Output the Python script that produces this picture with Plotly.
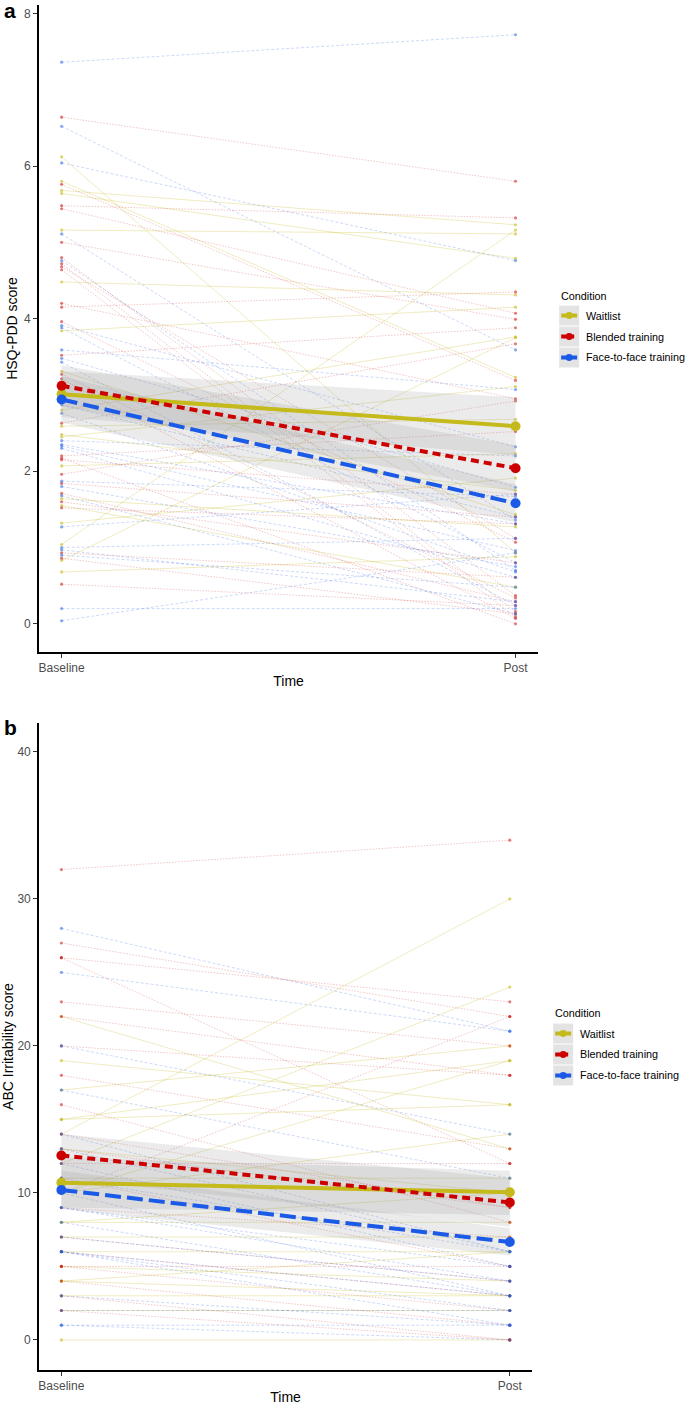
import plotly.graph_objects as go

W, H = 685, 1405
FONT = "Liberation Sans, Arial, Helvetica, sans-serif"

time_vals = [1, 2]
time_labels = ["Baseline", "Post"]
conditions = ["Waitlist", "Blended training", "Face-to-face training"]
cond_colors = ["#C4BA1B", "#CC0000", "#1A5AE6"]
cond_faint = ["rgba(196,186,27,0.34)", "rgba(204,0,0,0.29)", "rgba(26,90,230,0.29)"]
cond_point = ["rgba(196,186,27,0.6)", "rgba(204,0,0,0.5)", "rgba(26,90,230,0.5)"]
indiv_dash = ["solid", "1.5px,1.5px", "3px,2px"]
mean_dash = ["solid", "8px,5px", "16px,6px"]

# ---------------- Panel a: HSQ-PDD ----------------
a_wait_base = [6.12, 5.80, 5.68, 5.64, 5.16, 4.48, 3.84, 3.31, 2.80, 2.59, 2.48, 2.45, 2.07, 1.64, 1.55, 1.32, 1.04, 0.83, 0.68]
a_wait_post = [0.93, 3.23, 5.23, 4.79, 5.11, 4.31, 4.15, 1.43, 3.76, 2.68, 1.75, 3.11, 2.23, 1.27, 0.48, 1.91, 5.16, 3.75, 0.88]

a_blend_base = [6.64, 5.76, 5.48, 5.44, 5.00, 4.80, 4.72, 4.68, 4.64, 4.20, 4.15, 3.96, 3.52, 3.27, 3.21, 2.63, 2.20, 2.17, 2.15, 1.96, 1.84, 1.71, 1.60, 1.52, 0.93, 0.86, 0.52]
a_blend_post = [5.80, 3.19, 5.32, 4.07, 3.99, 0.37, 0.16, 1.12, 0.09, 2.95, 4.35, 1.07, 3.88, 0.34, 0.07, 3.67, 2.52, 0.00, 1.70, 2.92, 1.40, 0.29, 0.80, 1.31, 0.61, 0.13, 0.24]

a_f2f_base = [7.36, 6.52, 6.04, 5.11, 4.76, 3.91, 3.88, 3.59, 3.48, 3.43, 2.87, 2.76, 2.40, 2.35, 2.33, 2.30, 1.87, 1.80, 1.68, 1.27, 1.00, 0.97, 0.90, 0.20, 0.04]
a_f2f_post = [7.72, 3.59, 4.76, 1.36, 0.70, 2.32, 0.80, 3.07, 1.79, 0.24, 1.40, 0.68, 2.20, 1.31, 0.96, 0.61, 1.67, 0.75, 0.13, 1.70, 1.12, 0.29, 0.48, 0.20, 0.93]

a_mean_base = [3.01, 3.12, 2.94]
a_mean_post = [2.59, 2.04, 1.58]
a_ci_base_lo = [2.71, 2.85, 2.64]
a_ci_base_hi = [3.31, 3.39, 3.24]
a_ci_post_lo = [2.21, 1.74, 1.33]
a_ci_post_hi = [2.97, 2.34, 1.83]

# ---------------- Panel b: ABC Irritability ----------------
b_wait_base = [22, 19, 17, 15, 15, 14, 13, 12, 11, 10, 8, 8, 7, 6, 5, 4, 4, 3, 2, 0, 10]
b_wait_post = [13, 16, 20, 16, 19, 30, 10, 24, 11, 14, 10, 8, 7, 6, 4, 3, 6, 3, 2, 0, 19]

b_blend_base = [32, 27, 26, 26, 23, 22, 18, 16, 14, 12, 11, 9, 10, 7, 6, 5, 5, 4, 3, 2, 13, 20]
b_blend_post = [34, 22, 23, 12, 20, 18, 13, 8, 9, 12, 5, 7, 22, 4, 3, 5, 2, 1, 0, 0, 9, 18]

b_f2f_base = [28, 25, 20, 17, 14, 12, 11, 9, 9, 8, 7, 6, 6, 6, 3, 2, 1, 1, 13, 10]
b_f2f_post = [21, 21, 14, 11, 6, 5, 6, 4, 5, 3, 4, 3, 2, 1, 1, 2, 0, 1, 6, 3]

b_mean_base = [10.7, 12.55, 10.2]
b_mean_post = [10.05, 9.35, 6.66]
b_ci_base_lo = [9.0, 11.0, 8.9]
b_ci_base_hi = [12.4, 14.0, 11.5]
b_ci_post_lo = [8.5, 7.7, 5.75]
b_ci_post_hi = [11.5, 11.0, 7.6]

panels = [
    dict(xa="x", ya="y",
         base=[a_wait_base, a_blend_base, a_f2f_base],
         post=[a_wait_post, a_blend_post, a_f2f_post],
         mb=a_mean_base, mp=a_mean_post,
         blo=a_ci_base_lo, bhi=a_ci_base_hi, plo=a_ci_post_lo, phi=a_ci_post_hi),
    dict(xa="x2", ya="y2",
         base=[b_wait_base, b_blend_base, b_f2f_base],
         post=[b_wait_post, b_blend_post, b_f2f_post],
         mb=b_mean_base, mp=b_mean_post,
         blo=b_ci_base_lo, bhi=b_ci_base_hi, plo=b_ci_post_lo, phi=b_ci_post_hi),
]

fig = go.Figure()

for p in panels:
    # individual trajectories
    for ci in range(3):
        xs, ys = [], []
        for b0, p0 in zip(p["base"][ci], p["post"][ci]):
            xs += [time_vals[0], time_vals[1], None]
            ys += [b0, p0, None]
        fig.add_trace(go.Scatter(
            x=xs, y=ys, mode="lines+markers", xaxis=p["xa"], yaxis=p["ya"],
            line=dict(color=cond_faint[ci], width=0.8, dash=indiv_dash[ci]),
            marker=dict(color=cond_point[ci], size=3.2, line=dict(width=0)),
            showlegend=False, hoverinfo="skip"))
    # ribbons
    for ci in range(3):
        fig.add_trace(go.Scatter(
            x=[time_vals[0], time_vals[1], time_vals[1], time_vals[0], time_vals[0]],
            y=[p["blo"][ci], p["plo"][ci], p["phi"][ci], p["bhi"][ci], p["blo"][ci]],
            mode="lines", fill="toself", fillcolor="rgba(153,153,153,0.2)",
            line=dict(width=0), xaxis=p["xa"], yaxis=p["ya"],
            showlegend=False, hoverinfo="skip"))
    # mean lines
    for ci in range(3):
        fig.add_trace(go.Scatter(
            x=time_vals, y=[p["mb"][ci], p["mp"][ci]], mode="lines",
            line=dict(color=cond_colors[ci], width=4, dash=mean_dash[ci]),
            xaxis=p["xa"], yaxis=p["ya"], showlegend=False, name=conditions[ci]))
        fig.add_trace(go.Scatter(
            x=time_vals, y=[p["mb"][ci], p["mp"][ci]], mode="markers",
            marker=dict(color=cond_colors[ci], size=10, line=dict(width=0)),
            xaxis=p["xa"], yaxis=p["ya"], showlegend=False, name=conditions[ci]))


def px_x(x):
    return x / W


def px_y(y):
    return 1 - y / H


axis_common = dict(
    showline=True, linecolor="black", linewidth=1.6, mirror=False,
    ticks="outside", ticklen=4, tickwidth=1, tickcolor="#333333",
    tickfont=dict(family=FONT, size=12, color="#4D4D4D"),
    showgrid=False, zeroline=False,
)

fig.update_layout(
    width=W, height=H, margin=dict(l=0, r=0, t=0, b=0),
    plot_bgcolor="white", paper_bgcolor="white", showlegend=False,
    font=dict(family=FONT),
    xaxis=dict(domain=[px_x(38), px_x(538)], range=[0.95, 2.05], anchor="y",
               tickvals=time_vals, ticktext=time_labels,
               title=dict(text="Time", font=dict(size=14, color="black"), standoff=2),
               **axis_common),
    yaxis=dict(domain=[px_y(653), px_y(5)], range=[-0.37, 8.11], anchor="x",
               tickvals=[0, 2, 4, 6, 8],
               title=dict(text="HSQ-PDD score", font=dict(size=14, color="black"), standoff=3),
               **axis_common),
    xaxis2=dict(domain=[px_x(38), px_x(532)], range=[0.95, 2.05], anchor="y2",
                tickvals=time_vals, ticktext=time_labels,
                title=dict(text="Time", font=dict(size=14, color="black"), standoff=2),
                **axis_common),
    yaxis2=dict(domain=[px_y(1372), px_y(724)], range=[-2.05, 41.97], anchor="x2",
                tickvals=[0, 10, 20, 30, 40],
                title=dict(text="ABC Irritability score", font=dict(size=14, color="black"), standoff=3),
                **axis_common),
)

shapes = []
annotations = []

# panel letters
annotations.append(dict(text="<b>a</b>", x=px_x(1), y=px_y(-3), xref="paper", yref="paper",
                        xanchor="left", yanchor="top", showarrow=False,
                        font=dict(family=FONT, size=21, color="black")))
annotations.append(dict(text="<b>b</b>", x=px_x(1), y=px_y(715), xref="paper", yref="paper",
                        xanchor="left", yanchor="top", showarrow=False,
                        font=dict(family=FONT, size=21, color="black")))


def add_legend(x0, ytitle, ycenters, xtext):
    annotations.append(dict(text="Condition", x=px_x(x0), y=px_y(ytitle), xref="paper", yref="paper",
                            xanchor="left", yanchor="middle", showarrow=False,
                            font=dict(family=FONT, size=10.8, color="black")))
    for ci, yc in enumerate(ycenters):
        shapes.append(dict(type="rect", xref="paper", yref="paper",
                           x0=px_x(x0), x1=px_x(x0 + 20), y0=px_y(yc + 10), y1=px_y(yc - 10),
                           fillcolor="#E3E3E3", line=dict(width=0), layer="above"))
        shapes.append(dict(type="line", xref="paper", yref="paper",
                           x0=px_x(x0 + 2), x1=px_x(x0 + 18), y0=px_y(yc), y1=px_y(yc),
                           line=dict(color=cond_colors[ci], width=4,
                                     dash=["solid", "5px,3px", "7px,3px"][ci]), layer="above"))
        shapes.append(dict(type="circle", xref="paper", yref="paper",
                           x0=px_x(x0 + 6.5), x1=px_x(x0 + 13.5), y0=px_y(yc + 3.5), y1=px_y(yc - 3.5),
                           fillcolor=cond_colors[ci], line=dict(width=0), layer="above"))
        annotations.append(dict(text=conditions[ci], x=px_x(xtext), y=px_y(yc), xref="paper", yref="paper",
                                xanchor="left", yanchor="middle", showarrow=False,
                                font=dict(family=FONT, size=10.8, color="black")))


add_legend(559, 296, [316, 337, 358], 584)
add_legend(553, 1014, [1035, 1056, 1077], 578)

fig.update_layout(shapes=shapes, annotations=annotations)
fig.write_html("out.html", config={"displayModeBar": False},
               post_script="document.body.style.margin='0';document.body.style.overflow='hidden';")
